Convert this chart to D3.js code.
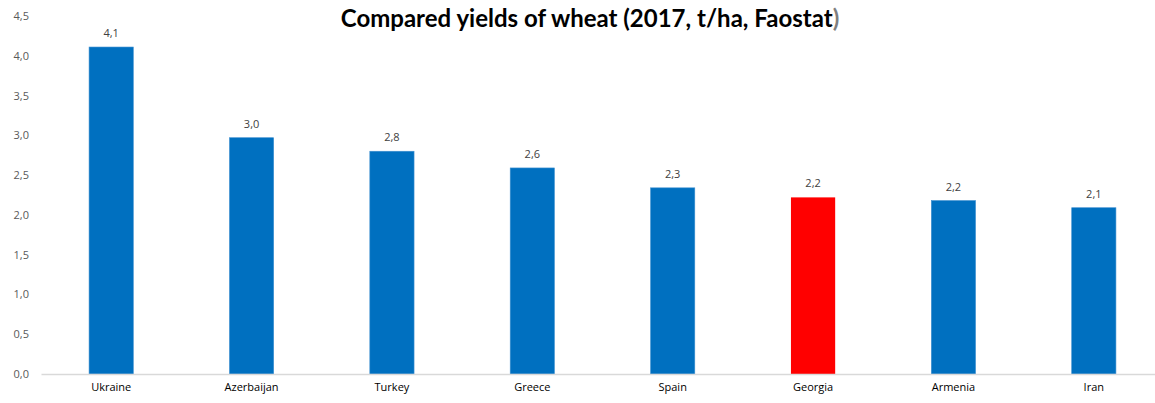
<!DOCTYPE html>
<html>
<head>
<meta charset="utf-8">
<script src="https://cdn.jsdelivr.net/npm/d3@7"></script>
<style>
  html, body { margin: 0; padding: 0; background: #fff; }
  svg { display: block; }
</style>
</head>
<body>
<svg id="chart" width="1155" height="403"></svg>
<script>
// Wheat yields by country, 2017 (t/ha)
const countries = ["Ukraine", "Azerbaijan", "Turkey", "Greece", "Spain", "Georgia", "Armenia", "Iran"];
const yields = [4.11, 2.97, 2.80, 2.59, 2.34, 2.22, 2.18, 2.09];
const highlighted = ["Georgia"];
const yTicks = [0, 0.5, 1, 1.5, 2, 2.5, 3, 3.5, 4, 4.5];

const svg = d3.select("#chart");
const margin = { left: 41, top: 16, bottom: 29 };
const width = 1155, height = 403;

// The category band runs slightly past the right edge of the canvas
const x = d3.scaleBand()
  .domain(countries)
  .range([margin.left, 1164])
  .paddingInner(0.685)
  .paddingOuter(0.3425);

const y = d3.scaleLinear()
  .domain([0, 4.5])
  .range([height - margin.bottom, margin.top]);

const comma = v => d3.format(".1f")(v).replace(".", ",");

// Title (closing parenthesis in grey)
const title = svg.append("text")
  .attr("x", 590)
  .attr("y", 27)
  .attr("text-anchor", "middle")
  .attr("font-family", "Lato, 'Open Sans', sans-serif")
  .attr("font-weight", "bold")
  .attr("font-size", 24)
  .attr("fill", "#000");
title.append("tspan").text("Compared yields of wheat (2017, t/ha, Faostat");
title.append("tspan").attr("fill", "#7f7f7f").text(")");

// Y axis labels
const yAxis = d3.axisLeft(y)
  .tickValues(yTicks)
  .tickFormat(comma)
  .tickSize(0)
  .tickPadding(12);

svg.append("g")
  .attr("transform", `translate(${margin.left},0)`)
  .call(yAxis)
  .call(g => g.select(".domain").remove())
  .call(g => g.selectAll("text")
    .attr("font-family", "'Open Sans', sans-serif")
    .attr("font-size", 11)
    .attr("fill", "#595959"));

// Bars
const data = countries.map((c, i) => ({ country: c, value: yields[i] }));

svg.append("g")
  .selectAll("rect")
  .data(data)
  .join("rect")
  .attr("x", d => x(d.country))
  .attr("y", d => y(d.value))
  .attr("width", x.bandwidth())
  .attr("height", d => y(0) - y(d.value))
  .attr("fill", d => highlighted.includes(d.country) ? "#ff0000" : "#0070c0")
  .attr("stroke", d => highlighted.includes(d.country) ? "none" : "#3d8fd0")
  .attr("stroke-width", 0.6);

// Value labels
svg.append("g")
  .selectAll("text")
  .data(data)
  .join("text")
  .attr("x", d => x(d.country) + x.bandwidth() / 2)
  .attr("y", d => y(d.value) - 10)
  .attr("text-anchor", "middle")
  .attr("font-family", "'Open Sans', sans-serif")
  .attr("font-size", 11)
  .attr("fill", "#404040")
  .text(d => comma(d.value));

// X axis
const xAxis = d3.axisBottom(x).tickSize(0).tickPadding(9);

svg.append("g")
  .attr("transform", `translate(0,${y(0)})`)
  .call(xAxis)
  .call(g => g.select(".domain")
    .attr("stroke", "#d9d9d9")
    .attr("stroke-width", 1.3))
  .call(g => g.selectAll("text")
    .attr("font-family", "'Open Sans', sans-serif")
    .attr("font-size", 11)
    .attr("fill", "#000"));
</script>
</body>
</html>
